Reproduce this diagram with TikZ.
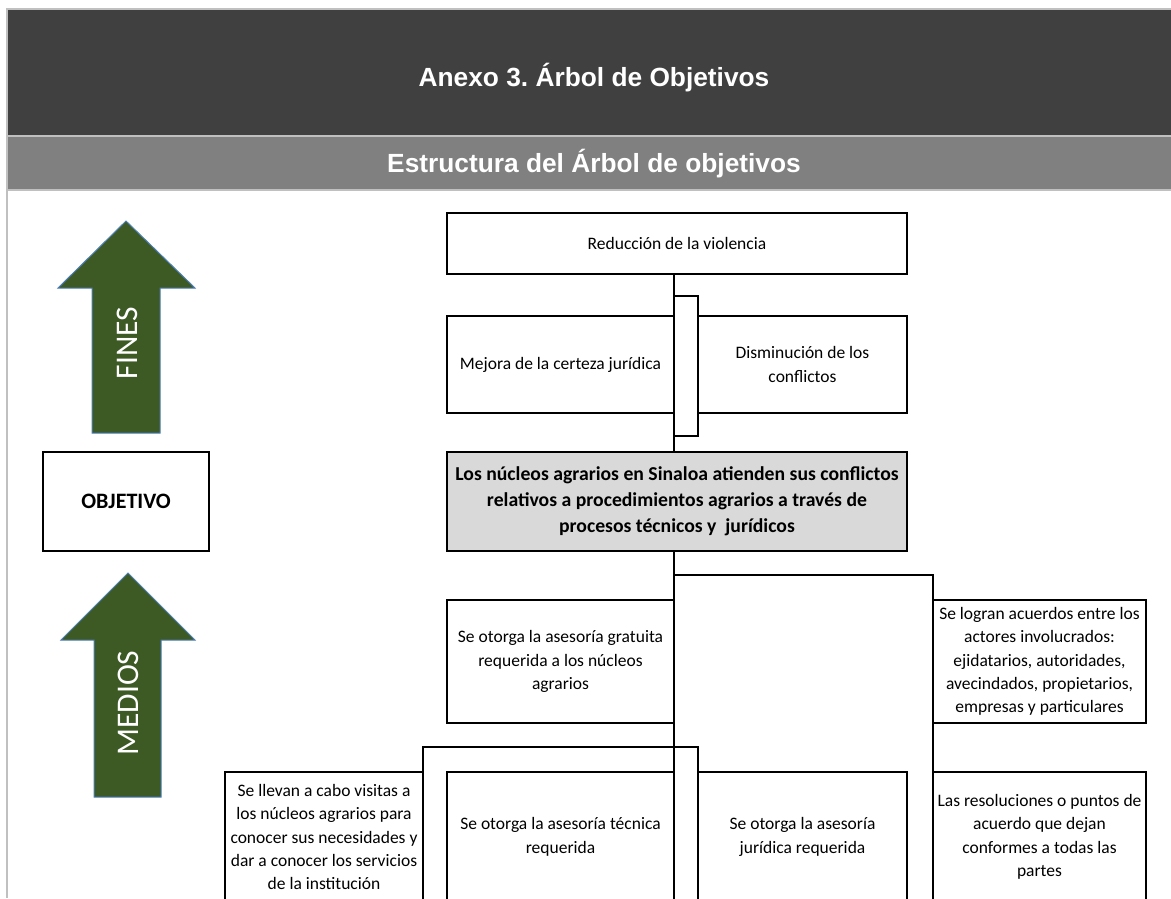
\documentclass[tikz,border=0pt]{standalone}
\usepackage{fontspec}
\setmainfont{Carlito}
\newfontfamily\headfont{Liberation Sans}
\definecolor{hdark}{HTML}{404040}
\definecolor{hmid}{HTML}{808080}
\definecolor{hline}{HTML}{C0C0C0}
\definecolor{arrowgreen}{HTML}{3D5A25}
\definecolor{arrowline}{HTML}{4A7EBB}
\definecolor{objfill}{HTML}{D9D9D9}
\frenchspacing
\begin{document}
\begin{tikzpicture}[x=1pt,y=-1pt,
  box/.style={draw=black, line width=1.3pt, inner sep=0pt, outer sep=0pt, align=center,
    font=\fontsize{17.5}{23.4}\selectfont},
  objbox/.style={box, line width=2pt, fill=objfill, font=\bfseries\fontsize{19.7}{25.8}\selectfont},
  labelbox/.style={box, line width=2pt, font=\bfseries\fontsize{22}{26}\selectfont},
  conn/.style={draw=black, line width=1.3pt},
  bigarrow/.style={fill=arrowgreen, draw=arrowline, line width=1pt},
  arrowtext/.style={text=white, rotate=90, inner sep=0pt, font=\fontsize{31.5}{31.5}\selectfont},
  headtext/.style={text=white, inner sep=0pt, anchor=base, font=\headfont\bfseries\fontsize{26.3}{26.3}\selectfont}
]
\useasboundingbox (0,0) rectangle (1171,898);
\clip (0,0) rectangle (1171,898);

% header bands
\fill[hline] (6,8) rectangle (1171,191);
\fill[hdark] (8,10) rectangle (1171,135);
\fill[hmid] (8,137) rectangle (1171,189);
\fill[hline] (6,191) rectangle (8,898);
\node[headtext] (title) at (594,86) {Anexo 3. Árbol de Objetivos};
\node[headtext] (subtitle) at (594,172) {Estructura del Árbol de objetivos};

% side arrows
\path[bigarrow] (126,221) -- (195,288) -- (160,288) -- (160,433) -- (92,433) -- (92,288) -- (58,288) -- cycle;
\node[arrowtext] (fines) at (127,343) {FINES};
\path[bigarrow] (128,573) -- (195,640) -- (161,640) -- (161,797) -- (94,797) -- (94,640) -- (61,640) -- cycle;
\node[arrowtext] (medios) at (128,703) {MEDIOS};

\node[labelbox, minimum width=166pt, minimum height=99pt] (objlabel) at (126,501.5) {OBJETIVO};

% boxes
\node[box, minimum width=460pt, minimum height=61pt] (red) at (677,243.5) {Reducción de la violencia};
\node[box, minimum width=227pt, minimum height=97pt] (mej) at (560.5,364.5) {Mejora de la certeza jurídica};
\node[box, minimum width=209pt, minimum height=97pt] (dis) at (802.5,364.5) {Disminución de los\\conflictos};
\node[objbox, minimum width=460pt, minimum height=99pt] (obj) at (677,501.5)
  {Los núcleos agrarios en Sinaloa atienden sus conflictos\\relativos a procedimientos agrarios a través de\\procesos técnicos y\ \ jurídicos};
\node[box, minimum width=227pt, minimum height=123pt] (gra) at (560.5,661.5)
  {Se otorga la asesoría gratuita\\requerida a los núcleos\\agrarios};
\node[box, minimum width=213pt, minimum height=123pt] (log) at (1039.5,661.5)
  {Se logran acuerdos entre los\\actores involucrados:\\ejidatarios, autoridades,\\avecindados, propietarios,\\empresas y particulares};
\node[box, minimum width=198pt, minimum height=130pt] (vis) at (324,837)
  {Se llevan a cabo visitas a\\los núcleos agrarios para\\conocer sus necesidades y\\dar a conocer los servicios\\de la institución};
\node[box, minimum width=227pt, minimum height=130pt] (tec) at (560.5,837)
  {Se otorga la asesoría técnica\\requerida};
\node[box, minimum width=209pt, minimum height=130pt] (jur) at (802.5,837)
  {Se otorga la asesoría\\jurídica requerida};
\node[box, minimum width=213pt, minimum height=130pt] (res) at (1039.5,837)
  {Las resoluciones o puntos de\\acuerdo que dejan\\conformes a todas las\\partes};

% connectors
\coordinate (sA) at (674,296);
\coordinate (sB) at (698,436);
\draw[conn] (mej.east |- red.south) -- (mej.east |- obj.north);
\draw[conn] (sA) rectangle (sB);
\coordinate (bigTL) at (674,575);
\coordinate (bigTR) at (933,575);
\draw[conn] (mej.east |- obj.south) -- (tec.south east);
\draw[conn] (bigTL) -- (bigTR) -- (res.south west);
\coordinate (rL) at (423,747);
\coordinate (rR) at (698,747);
\draw[conn] (vis.south east) -- (rL) -- (rR) -- (jur.south west);
\end{tikzpicture}
\end{document}
